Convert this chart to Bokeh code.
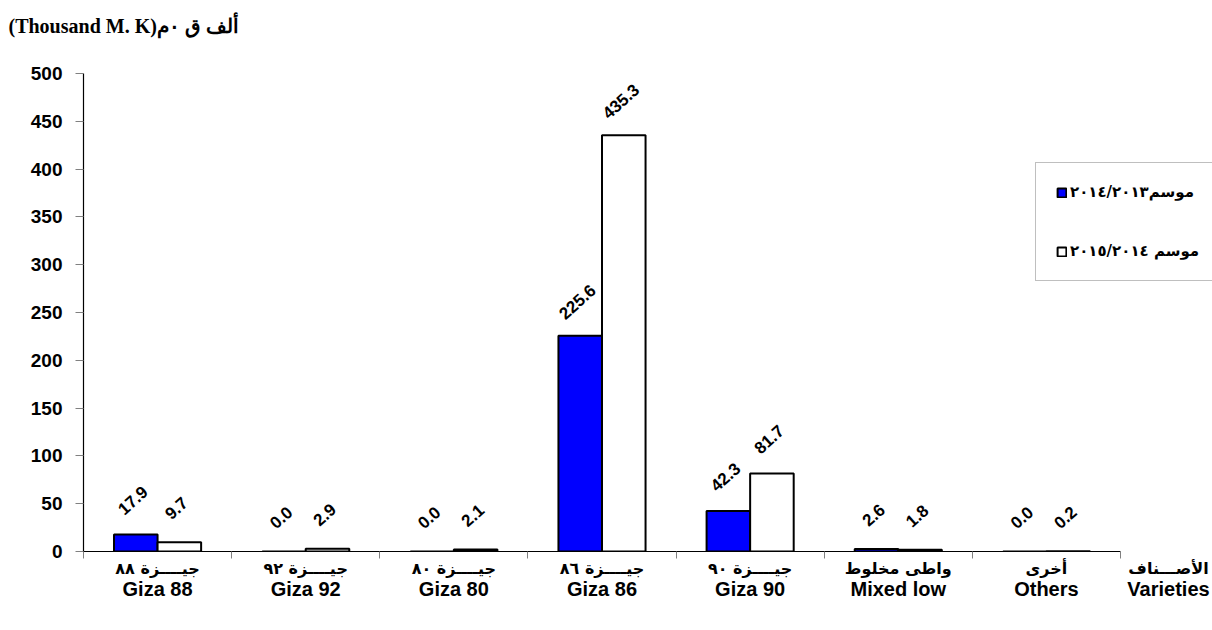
from bokeh.plotting import figure
from bokeh.models import (ColumnDataSource, Range1d, FixedTicker, LabelSet, LinearAxis,
                          Legend, LegendItem)
from bokeh.core.properties import value
from bokeh.embed import file_html
from bokeh.resources import INLINE

# ---- data ----
categories_en = ["Giza 88", "Giza 92", "Giza 80", "Giza 86", "Giza 90", "Mixed low", "Others"]
categories_ar = ["جيــــزة ٨٨", "جيــــزة ٩٢", "جيــــزة ٨٠", "جيــــزة ٨٦", "جيــــزة ٩٠", "واطى مخلوط", "أخرى"]
season_1 = [17.9, 0.0, 0.0, 225.6, 42.3, 2.6, 0.0]
season_2 = [9.7, 2.9, 2.1, 435.3, 81.7, 1.8, 0.2]
season_labels = ["موسم٢٠١٤/٢٠١٣", "موسم ٢٠١٥/٢٠١٤"]
y_ticks = [0, 50, 100, 150, 200, 250, 300, 350, 400, 450, 500]
unit_text = "(Thousand M. K)ألف ق ٠م"
axis_title_ar = "الأصـــناف"
axis_title_en = "Varieties"

n = len(categories_en)
half = 0.147
centers = [i + 0.5 for i in range(n)]
cat_px = (1120 - 83) / n          # pixels per category
x_end = n + 92 / cat_px           # frame runs to the right edge of the canvas
x_var = n + 48 / cat_px           # position of the "Varieties" caption

src = ColumnDataSource(dict(
    x1=[c - half for c in centers],
    x2=[c + half for c in centers],
    v1=season_1, v2=season_2,
    t1=["%.1f" % v for v in season_1],
    t2=["%.1f" % v for v in season_2],
))

p = figure(width=1212, height=630, output_backend="svg", toolbar_location=None,
           x_range=Range1d(0, x_end), y_range=Range1d(0, 500),
           min_border_left=83, min_border_right=0, min_border_top=73, min_border_bottom=79)
p.outline_line_color = None
p.xgrid.visible = False
p.ygrid.visible = False
p.background_fill_color = "white"
p.border_fill_color = "white"

# unit caption, with a blank second line to lift it to the top of the page
p.title.text = unit_text + "\n "
p.title.align = "left"
p.title.offset = -75
p.title.text_font = "Liberation Serif"
p.title.text_font_style = "bold"
p.title.text_font_size = "20px"
p.title.text_color = "black"
if "standoff" in p.title.properties():
    p.title.standoff = 26
p.title.vertical_align = "top"

# y axis
ya = p.yaxis[0]
ya.ticker = FixedTicker(ticks=y_ticks)
ya.major_tick_in = 0
ya.major_tick_out = 8
ya.major_tick_line_color = "#808080"
ya.minor_tick_line_color = None
ya.axis_line_color = "black"
ya.axis_line_width = 1.2
ya.major_label_text_font = "Liberation Sans"
ya.major_label_text_font_style = "bold"
ya.major_label_text_font_size = "19px"
ya.major_label_text_color = "black"
ya.major_label_standoff = 13

# x axis: line and ticks at the category boundaries
xa = p.xaxis[0]
xa.bounds = (0, n)
xa.ticker = FixedTicker(ticks=list(range(n + 1)))
xa.major_tick_in = 0
xa.major_tick_out = 7
xa.major_tick_line_color = "#808080"
xa.minor_tick_line_color = None
xa.axis_line_color = "black"
xa.axis_line_width = 1.2
xa.major_label_overrides = {i: "" for i in range(n + 1)}
xa.major_label_standoff = 0

# label-only axes for the Arabic and English category names
lab_ticks = centers + [x_var]
axB = LinearAxis(ticker=FixedTicker(ticks=lab_ticks),
                 major_label_overrides={t: s for t, s in zip(lab_ticks, categories_ar + [axis_title_ar])},
                 axis_line_color=None, major_tick_line_color=None, minor_tick_line_color=None,
                 major_tick_in=0, major_tick_out=0, major_label_standoff=0,
                 major_label_text_font="DejaVu Sans", major_label_text_font_style="bold",
                 major_label_text_font_size="16px", major_label_text_color="black")
axC = LinearAxis(ticker=FixedTicker(ticks=lab_ticks),
                 major_label_overrides={t: s for t, s in zip(lab_ticks, categories_en + [axis_title_en])},
                 axis_line_color=None, major_tick_line_color=None, minor_tick_line_color=None,
                 major_tick_in=0, major_tick_out=0, major_label_standoff=-3,
                 major_label_text_font="Liberation Sans", major_label_text_font_style="bold",
                 major_label_text_font_size="20px", major_label_text_color="black")
p.add_layout(axB, "below")
p.add_layout(axC, "below")

r1 = p.vbar(x="x1", top="v1", width=2 * half, source=src,
            fill_color="#0000FF", line_color="black", line_width=2)
r2 = p.vbar(x="x2", top="v2", width=2 * half, source=src,
            fill_color="white", line_color="black", line_width=2)

lab_kw = dict(text_font=value("Liberation Sans"), text_font_style="bold", text_font_size="17px",
              text_align="center", text_baseline="middle", angle=42, angle_units="deg",
              text_color="black")
p.add_layout(LabelSet(x="x1", y="v1", text="t1", source=src, x_offset=-3, y_offset=34, **lab_kw))
p.add_layout(LabelSet(x="x2", y="v2", text="t2", source=src, x_offset=-3, y_offset=34, **lab_kw))

legend = Legend(items=[LegendItem(label=season_labels[0], renderers=[r1]),
                       LegendItem(label=season_labels[1], renderers=[r2])],
                location=(952, 270), orientation="vertical",
                padding=20, spacing=41, glyph_width=11, glyph_height=11, label_height=11,
                label_standoff=3, margin=0,
                label_text_font="DejaVu Sans", label_text_font_style="bold",
                label_text_font_size="15px", label_text_color="black",
                border_line_color="#808080", border_line_width=1,
                background_fill_color="white", background_fill_alpha=1)
p.add_layout(legend, "center")

open("out.html", "w").write(file_html(p, INLINE))
